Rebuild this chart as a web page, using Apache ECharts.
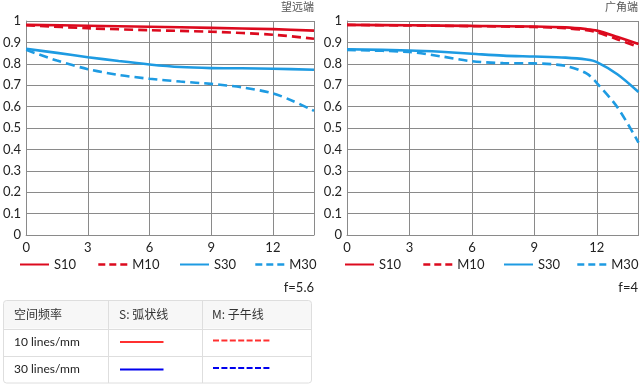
<!DOCTYPE html>
<html><head><meta charset="utf-8">
<script src="https://cdn.jsdelivr.net/npm/echarts@6/dist/echarts.min.js"></script>
<style>html,body{margin:0;padding:0;background:#fff}#c{width:640px;height:387px}</style>
</head><body><div id="c"></div>
<script>
// ---- data ----
var xTicks = [0, 3, 6, 9, 12];
var seriesNames = ['S10', 'M10', 'S30', 'M30'];
var panelTitles = ['望远端', '广角端'];
var apertures = ['f=5.6', 'f=4'];
// telephoto (f=5.6)
var teleS10 = [[0,0.982],[3,0.978],[6,0.973],[9,0.968],[12,0.962],[14,0.955]];
var teleM10 = [[0,0.980],[3,0.966],[6,0.957],[9,0.950],[12,0.936],[14,0.917]];
var teleS30 = [[0,0.870],[1.5,0.851],[3,0.831],[4.5,0.813],[6,0.797],[7.5,0.785],[9,0.780],[10.5,0.779],[12,0.777],[14,0.772]];
var teleM30 = [[0,0.865],[1.5,0.815],[3,0.775],[4.5,0.748],[6,0.730],[7.5,0.717],[9,0.706],[10.5,0.690],[12,0.662],[13,0.625],[14,0.580]];
// wide (f=4)
var wideS10 = [[0,0.982],[3,0.980],[6,0.977],[9,0.974],[10.5,0.970],[11.5,0.962],[12,0.955],[13,0.925],[14,0.893]];
var wideM10 = [[0,0.982],[3,0.979],[6,0.976],[9,0.972],[10.5,0.966],[11.5,0.957],[12,0.947],[13,0.914],[14,0.878]];
var wideS30 = [[0,0.868],[3,0.862],[4.5,0.856],[6,0.847],[7.5,0.838],[9,0.834],[10.5,0.829],[11.5,0.820],[12,0.808],[13,0.750],[14,0.668]];
var wideM30 = [[0,0.865],[3,0.855],[4.5,0.835],[6,0.812],[7.5,0.803],[9,0.802],[10.5,0.790],[11.5,0.755],[12,0.710],[13,0.595],[14,0.432]];
// table
var tableHeader = ['空间频率', 'S: 弧状线', 'M: 子午线'];
var tableRows = ['10 lines/mm', '30 lines/mm'];

var RED = '#dc0a1e', BLUE = '#1e9be2';
var FONT = "Lato, 'Noto Sans CJK SC', sans-serif";
var GRID = '#8a8a8a';

var chart = echarts.init(document.getElementById('c'), null, {renderer: 'canvas'});

var grids = [
  {left: 22, top: 21, width: 292, height: 214},
  {left: 347, top: 21, width: 291.5, height: 214}
];

function mkX(i) {
  return {
    type: 'value', gridIndex: i, min: 0, max: 14, interval: 3,
    axisLine: {show: true, lineStyle: {color: GRID, width: 1}},
    axisTick: {show: false},
    splitLine: {show: true, lineStyle: {color: GRID, width: 1}},
    axisLabel: {margin: 6, fontSize: 13, color: '#222', fontFamily: FONT, showMaxLabel: false}
  };
}
function mkY(i) {
  return {
    type: 'value', gridIndex: i, min: 0, max: 1, interval: 0.1,
    axisLine: {show: true, lineStyle: {color: GRID, width: 1}},
    axisTick: {show: false},
    splitLine: {show: true, lineStyle: {color: GRID, width: 1}},
    axisLabel: {margin: 5, fontSize: 13, color: '#222', fontFamily: FONT}
  };
}
function mkS(name, data, idx, color, dashed) {
  return {
    type: 'line', name: name, data: data, xAxisIndex: idx, yAxisIndex: idx,
    smooth: 0.3, symbol: 'none', silent: true,
    lineStyle: {color: color, width: 2.6, type: dashed ? [9, 5] : 'solid'},
    itemStyle: {color: color}
  };
}

var series = [
  mkS('S10', teleS10, 0, RED, false),
  mkS('M10', teleM10, 0, RED, true),
  mkS('S30', teleS30, 0, BLUE, false),
  mkS('M30', teleM30, 0, BLUE, true),
  mkS('S10', wideS10, 1, RED, false),
  mkS('M10', wideM10, 1, RED, true),
  mkS('S30', wideS30, 1, BLUE, false),
  mkS('M30', wideM30, 1, BLUE, true)
];

var legendLefts = [[19, 97, 179, 254], [344, 422, 503, 576]];
var legends = [];
legendLefts.forEach(function (arr) {
  arr.forEach(function (lx, k) {
    var lg = {
      data: [seriesNames[k]], left: lx, top: 258, itemWidth: 29, itemHeight: 14,
      itemGap: 0, selectedMode: false, padding: 0,
      itemStyle: {opacity: 0},
      textStyle: {fontSize: 13, color: '#222', fontFamily: FONT}
    };
    if (k % 2 === 1) lg.lineStyle = {type: [7, 4], width: 2.6};
    legends.push(lg);
  });
});

var g = [];
// panel titles & apertures
g.push({type: 'text', right: 640 - 314, top: 2, style: {text: panelTitles[0], fontSize: 11, fill: '#555', fontFamily: FONT}});
g.push({type: 'text', right: 2, top: 2, style: {text: panelTitles[1], fontSize: 11, fill: '#555', fontFamily: FONT}});
g.push({type: 'text', right: 640 - 314, top: 281, style: {text: apertures[0], fontSize: 13, fill: '#222', fontFamily: FONT}});
g.push({type: 'text', right: 2, top: 281, style: {text: apertures[1], fontSize: 13, fill: '#222', fontFamily: FONT}});

// table
var tx0 = 3, tx1 = 311, ty0 = 300.5, ty1 = 383;
var colX = [3, 108.5, 202.5, 311];
var rowY = [300.5, 328.5, 356, 383];
g.push({type: 'rect', shape: {x: tx0 + 0.5, y: rowY[0], width: tx1 - tx0, height: rowY[1] - rowY[0], r: [3, 3, 0, 0]}, style: {fill: '#f7f7f7', stroke: null}});
g.push({type: 'rect', shape: {x: tx0 + 0.5, y: ty0, width: tx1 - tx0, height: ty1 - ty0, r: 3}, style: {fill: 'none', stroke: '#dedede', lineWidth: 1}});
[rowY[1], rowY[2]].forEach(function (yy) {
  g.push({type: 'line', shape: {x1: tx0 + 0.5, y1: Math.round(yy) + 0.5, x2: tx1 + 0.5, y2: Math.round(yy) + 0.5}, style: {stroke: '#dedede', lineWidth: 1}});
});
[colX[1], colX[2]].forEach(function (xx) {
  g.push({type: 'line', shape: {x1: xx, y1: ty0, x2: xx, y2: ty1}, style: {stroke: '#dedede', lineWidth: 1}});
});
var textX = [14, 119, 212];
tableHeader.forEach(function (t, i) {
  g.push({type: 'text', x: textX[i], y: 314.5, style: {text: t, fontSize: 12, fill: '#333', fontFamily: "'Noto Sans CJK SC', Lato, sans-serif", verticalAlign: 'middle'}});
});
tableRows.forEach(function (t, i) {
  g.push({type: 'text', x: 14, y: [342, 369.5][i], style: {text: t, fontSize: 12, fill: '#222', fontFamily: FONT, verticalAlign: 'middle'}});
});
// sample lines
var sampleColors = ['#ff3030', '#0000ee'];
[342, 369.5].forEach(function (yy, i) {
  g.push({type: 'line', shape: {x1: 120, y1: yy, x2: 163.5, y2: yy}, style: {stroke: sampleColors[i], lineWidth: 1.8}});
  g.push({type: 'line', shape: {x1: 213, y1: yy - 1.5, x2: 271, y2: yy - 1.5}, style: {stroke: sampleColors[i], lineWidth: 2.2, lineDash: [6, 2.4]}});
});

chart.setOption({
  animation: false,
  textStyle: {fontFamily: FONT},
  grid: grids,
  xAxis: [mkX(0), mkX(1)],
  yAxis: [mkY(0), mkY(1)],
  legend: legends,
  series: series,
  graphic: g
});
</script>
</body></html>
